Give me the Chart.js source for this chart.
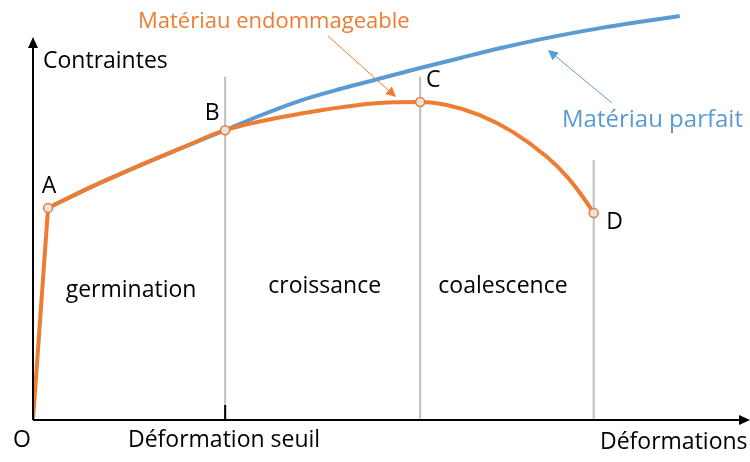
<!DOCTYPE html>
<html lang="fr">
<head>
<meta charset="utf-8">
<title>Endommagement</title>
<script src="https://cdn.jsdelivr.net/npm/chart.js@4.4.1/dist/chart.umd.min.js"></script>
<style>
  html, body { margin: 0; padding: 0; background: #fff; }
  #wrap { width: 750px; height: 462px; position: relative; }
</style>
</head>
<body>
<div id="wrap"><canvas id="chart"></canvas></div>
<script>
// points caractéristiques (déformation, contrainte), unités arbitraires
const pointLabels = ["A", "B", "C", "D"];
const pointX = [2.1, 26.8, 54.0, 78.2];
const pointY = [50.5, 69.0, 75.7, 49.3];

// partie élastique O -> A
const elasticX = [0, 2.1];
const elasticY = [0, 50.5];

// matériau endommageable A -> D
const damageX = [2.1, 8.0, 14.2, 20.5, 26.8, 37.2, 48.4, 54.0, 57.7, 62.3, 66.9, 71.7, 74.5, 76.7, 78.2];
const damageY = [50.5, 55.4, 60.1, 64.6, 69.0, 72.9, 75.5, 75.7, 75.0, 72.6, 68.6, 62.6, 57.9, 53.1, 49.3];

// matériau parfait A -> fin
const perfectX = [2.1, 8.0, 14.2, 20.5, 26.8, 31.7, 37.2, 42.8, 48.4, 54.0, 59.6, 65.1, 72.1, 79.1, 84.7, 90.2];
const perfectY = [50.5, 55.4, 60.1, 64.6, 69.0, 72.5, 76.0, 78.8, 81.3, 83.8, 86.2, 88.5, 91.1, 93.3, 94.8, 96.2];

// limites des phases
const phaseX = [26.8, 54.0, 78.2];
const phaseTop = [81.7, 81.7, 61.9];
const phaseNames = ["germination", "croissance", "coalescence"];

const ORANGE = "#ED7D31";
const BLUE = "#5B9BD5";
const GREY = "#BFBFBF";
const FONT = '"Open Sans", "Noto Sans", sans-serif';

const toXY = (xs, ys) => xs.map((x, i) => ({ x: x, y: ys[i] }));

// une droite verticale par limite de phase
const phaseSets = phaseX.map((x, i) => ({
  data: [{ x: x, y: 0 }, { x: x, y: phaseTop[i] }],
  showLine: true,
  borderColor: GREY,
  borderWidth: 2,
  pointRadius: 0,
  order: 5,
}));

function arrow(ctx, x1, y1, x2, y2, color, width, head, half) {
  const a = Math.atan2(y2 - y1, x2 - x1);
  ctx.save();
  ctx.strokeStyle = color;
  ctx.fillStyle = color;
  ctx.lineWidth = width;
  ctx.beginPath();
  ctx.moveTo(x1, y1);
  ctx.lineTo(x2 - Math.cos(a) * head * 0.8, y2 - Math.sin(a) * head * 0.8);
  ctx.stroke();
  ctx.beginPath();
  ctx.moveTo(x2, y2);
  ctx.lineTo(x2 - Math.cos(a) * head - Math.sin(a) * half, y2 - Math.sin(a) * head + Math.cos(a) * half);
  ctx.lineTo(x2 - Math.cos(a) * head + Math.sin(a) * half, y2 - Math.sin(a) * head - Math.cos(a) * half);
  ctx.closePath();
  ctx.fill();
  ctx.restore();
}

const decor = {
  id: "decor",
  afterDatasetsDraw(chart) {
    const { ctx, chartArea } = chart;
    const px = (v) => chart.scales.x.getPixelForValue(v);
    const py = (v) => chart.scales.y.getPixelForValue(v);
    const x0 = px(0), y0 = py(0);

    // axes avec flèches
    arrow(ctx, x0, y0, chartArea.right, y0, "#000", 2, 11, 5);
    arrow(ctx, x0, y0, x0, 37, "#000", 2, 11, 5);

    // graduation "déformation seuil"
    ctx.save();
    ctx.strokeStyle = "#000";
    ctx.lineWidth = 2;
    ctx.beginPath();
    ctx.moveTo(px(phaseX[0]), y0);
    ctx.lineTo(px(phaseX[0]), y0 - 15);
    ctx.stroke();
    ctx.restore();

    // flèches d'annotation
    arrow(ctx, 328, 36, 396, 97, ORANGE, 1, 10, 5);
    arrow(ctx, 612, 103, 548, 50, BLUE, 1, 10, 5);

    ctx.save();
    ctx.textBaseline = "middle";
    ctx.font = "23px " + FONT;

    ctx.fillStyle = "#000";
    ctx.textAlign = "left";
    ctx.fillText("Contraintes", 43, 61);
    ctx.fillText("Déformation seuil", 128, 440);
    ctx.fillText("Déformations", 600, 442);

    ctx.textAlign = "center";
    ctx.fillText("O", 22, 440);
    const labelOffset = [[1, -21], [-13, -17], [13, -22], [21, 10]];
    pointLabels.forEach((t, i) => {
      ctx.fillText(t, px(pointX[i]) + labelOffset[i][0], py(pointY[i]) + labelOffset[i][1]);
    });

    const bounds = [0].concat(phaseX);
    const phaseShift = [2, 2, -4];
    const phaseY = [290, 286, 286];
    phaseNames.forEach((t, i) => {
      ctx.fillText(t, (px(bounds[i]) + px(bounds[i + 1])) / 2 + phaseShift[i], phaseY[i]);
    });

    ctx.textAlign = "left";
    ctx.fillStyle = ORANGE;
    ctx.font = "22px " + FONT;
    ctx.fillText("Matériau endommageable", 138, 22);
    ctx.fillStyle = BLUE;
    ctx.font = "24px " + FONT;
    ctx.fillText("Matériau parfait", 562, 120);
    ctx.restore();
  },
};

new Chart(document.getElementById("chart"), {
  type: "scatter",
  data: {
    datasets: [
      {
        label: "points",
        data: toXY(pointX, pointY),
        showLine: false,
        pointRadius: 4.5,
        pointBackgroundColor: "#E4E4E4",
        pointBorderColor: ORANGE,
        pointBorderWidth: 1.5,
        order: 0,
      },
      {
        label: "Matériau endommageable (élastique)",
        data: toXY(elasticX, elasticY),
        showLine: true,
        borderColor: ORANGE,
        borderWidth: 4,
        pointRadius: 0,
        tension: 0,
        order: 1,
      },
      {
        label: "Matériau endommageable",
        data: toXY(damageX, damageY),
        showLine: true,
        borderColor: ORANGE,
        borderWidth: 4,
        pointRadius: 0,
        cubicInterpolationMode: "monotone",
        order: 1,
      },
      {
        label: "Matériau parfait",
        data: toXY(perfectX, perfectY),
        showLine: true,
        borderColor: BLUE,
        borderWidth: 4,
        pointRadius: 0,
        cubicInterpolationMode: "monotone",
        order: 2,
      },
      ...phaseSets,
    ],
  },
  options: {
    responsive: true,
    maintainAspectRatio: false,
    animation: false,
    layout: {
      autoPadding: false,
      padding: { left: 33, right: 0, top: 0, bottom: 42 },
    },
    plugins: {
      legend: { display: false },
      tooltip: { enabled: false },
    },
    scales: {
      x: { type: "linear", min: 0, max: 100, display: false },
      y: { type: "linear", min: 0, max: 100, display: false },
    },
  },
  plugins: [decor],
});
</script>
</body>
</html>
